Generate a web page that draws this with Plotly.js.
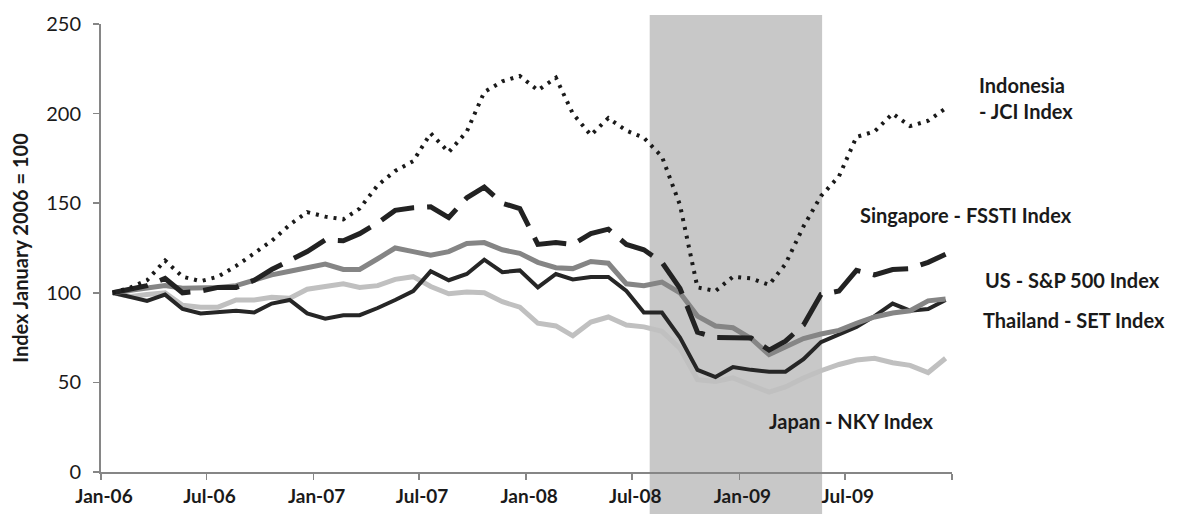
<!DOCTYPE html>
<html>
<head>
<meta charset="utf-8">
<script src="https://cdn.plot.ly/plotly-3.0.1.min.js"></script>
<style>
  html, body { margin: 0; padding: 0; background: #ffffff; }
  #chart { width: 1180px; height: 514px; }
</style>
</head>
<body>
<div id="chart"></div>
<script>
// Monthly observations, Jan 2006 - Dec 2009 (index, January 2006 = 100)
const months = [
  "2006-01","2006-02","2006-03","2006-04","2006-05","2006-06","2006-07","2006-08","2006-09","2006-10","2006-11","2006-12",
  "2007-01","2007-02","2007-03","2007-04","2007-05","2007-06","2007-07","2007-08","2007-09","2007-10","2007-11","2007-12",
  "2008-01","2008-02","2008-03","2008-04","2008-05","2008-06","2008-07","2008-08","2008-09","2008-10","2008-11","2008-12",
  "2009-01","2009-02","2009-03","2009-04","2009-05","2009-06","2009-07","2009-08","2009-09","2009-10","2009-11","2009-12"
];

const indonesiaJCI = [
  100, 103, 107, 118, 109, 106.5, 109, 115, 122, 129, 138, 145,
  142.5, 141, 147, 160, 168, 173.5, 189, 178.5, 190, 212, 218, 221,
  213, 220, 200, 188, 197.5, 190.5, 186.5, 176, 149, 103, 101, 109,
  108, 104.5, 116, 137, 154, 165, 187, 190, 200, 193, 196, 203
];

const singaporeFSSTI = [
  100, 102, 104, 108, 100, 101, 103, 103, 107, 113, 118, 123,
  129.5, 129, 133, 139, 146, 147.5, 148, 142, 153, 159, 150, 147,
  127, 128, 127, 133, 135.5, 127, 124, 117, 102.5, 78, 75, 75,
  74.8, 68, 73, 82, 99, 101, 112.5, 110, 113, 113.5, 117, 121.5
];

const usSP500 = [
  100, 101.5, 102.5, 104, 102.5, 102.5, 103, 104, 107, 110, 112, 114,
  116, 113, 113, 119, 125, 123, 121, 123, 127.5, 128, 124, 122,
  117, 114, 113.5, 117.5, 116.5, 105, 104, 106, 100, 87, 81.5, 80.5,
  74.5, 65.5, 70, 74.5, 77, 79, 83, 86.5, 88.7, 90, 95.5, 96.5
];

const thailandSET = [
  100, 97.5, 95.5, 99, 91, 88.5, 89, 90, 89, 94, 96, 88.5,
  85.5, 87.5, 87.5, 91.5, 96, 101, 112, 107, 110.5, 118.5, 111.5, 112.5,
  103, 110.5, 107.5, 108.8, 108.8, 101, 89, 89, 75, 57, 53, 58.6,
  57, 56, 56, 63, 72.5, 77, 81, 87, 94, 90, 91, 96
];

const japanNKY = [
  100, 98, 99, 100, 93, 92, 92, 96, 96, 97.5, 97, 102,
  103.5, 105, 103, 104, 107.5, 109, 103.5, 99.5, 100.4, 100, 95, 92,
  83, 81.5, 76, 83.7, 86.5, 82, 81, 78.5, 69, 51.5, 50.5, 52.5,
  48.5, 44.6, 47.5, 52.5, 56.5, 60, 62.5, 63.5, 61, 59.5, 55.5, 63.5
];

const tickDates = ["2006-01-01","2006-07-01","2007-01-01","2007-07-01","2008-01-01","2008-07-01","2009-01-01","2009-07-01","2010-01-01"];
const tickLabels = ["Jan-06","Jul-06","Jan-07","Jul-07","Jan-08","Jul-08","Jan-09","Jul-09",""];

const crisisStart = "2008-07-31";
const crisisEnd = "2009-05-23";

const seriesLabels = {
  indonesia: "Indonesia<br>- JCI Index",
  singapore: "Singapore - FSSTI Index",
  us: "US - S&P 500 Index",
  thailand: "Thailand - SET Index",
  japan: "Japan - NKY Index"
};

const x = months.map(m => m + "-21");
const FONT = "Lato, 'Open Sans', 'DejaVu Sans', sans-serif";

const traces = [
  { x: x, y: japanNKY, name: "Japan", mode: "lines",
    line: { color: "#c0c0c0", width: 5 } },
  { x: x, y: thailandSET, name: "Thailand", mode: "lines",
    line: { color: "#262626", width: 4 } },
  { x: x, y: usSP500, name: "US", mode: "lines",
    line: { color: "#858585", width: 5 } },
  { x: x, y: singaporeFSSTI, name: "Singapore", mode: "lines",
    line: { color: "#222222", width: 5, dash: "36px,13px" } },
  { x: x, y: indonesiaJCI, name: "Indonesia", mode: "lines",
    line: { color: "#1a1a1a", width: 4, dash: "3px,6px" } }
];

const annStyle = { family: FONT, size: 20, color: "#1a1a1a", weight: "bold" };
const annotations = [
  { text: seriesLabels.indonesia, x: 1.029, y: 0.835, xanchor: "left", yanchor: "middle", align: "left" },
  { text: seriesLabels.singapore, x: 0.889, y: 0.574, xanchor: "left", yanchor: "middle", align: "left" },
  { text: seriesLabels.us, x: 1.036, y: 0.429, xanchor: "left", yanchor: "middle", align: "left" },
  { text: seriesLabels.thailand, x: 1.034, y: 0.339, xanchor: "left", yanchor: "middle", align: "left" },
  { text: seriesLabels.japan, x: 0.783, y: 0.114, xanchor: "left", yanchor: "middle", align: "left" }
].map(a => Object.assign({ xref: "paper", yref: "paper", showarrow: false, font: annStyle }, a));

const layout = {
  width: 1180, height: 514,
  margin: { l: 101, r: 228, t: 24, b: 42 },
  paper_bgcolor: "#ffffff", plot_bgcolor: "#ffffff",
  showlegend: false,
  font: { family: FONT, color: "#1a1a1a" },
  xaxis: {
    type: "date",
    range: ["2006-01-01", "2010-01-01"],
    tickmode: "array", tickvals: tickDates, ticktext: tickLabels,
    showgrid: false, zeroline: false,
    showline: true, linecolor: "#868686", linewidth: 2,
    ticks: "outside", ticklen: 6, tickwidth: 1.5, tickcolor: "#868686",
    ticklabelshift: 3,
    tickfont: { family: FONT, size: 19, color: "#1a1a1a", weight: "bold" }
  },
  yaxis: {
    range: [0, 250], dtick: 50, tick0: 0,
    showgrid: false, zeroline: false,
    showline: true, linecolor: "#868686", linewidth: 2,
    ticks: "outside", ticklen: 6, tickwidth: 1.5, tickcolor: "#868686",
    ticklabelstandoff: 8,
    tickfont: { family: FONT, size: 20, color: "#1a1a1a" },
    title: { text: "Index January 2006 = 100", standoff: 12,
             font: { family: FONT, size: 20, color: "#1a1a1a", weight: "bold" } }
  },
  shapes: [
    { type: "rect", layer: "below", xref: "x", yref: "paper",
      x0: crisisStart, x1: crisisEnd, y0: -0.1, y1: 1.02,
      fillcolor: "#c8c8c8", line: { width: 0 } }
  ],
  annotations: annotations
};

Plotly.newPlot("chart", traces, layout, { displayModeBar: false, staticPlot: true });
</script>
</body>
</html>
